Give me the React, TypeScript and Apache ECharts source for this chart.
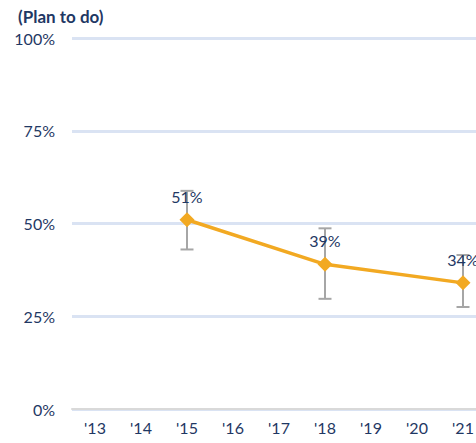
import React, { useEffect, useRef } from "react";
import * as echarts from "echarts";

const years = ["'13", "'14", "'15", "'16", "'17", "'18", "'19", "'20", "'21"];
const values: (number | null)[] = [null, null, 51, null, null, 39, null, null, 34];
const errIndex = [2, 5, 8];
const errLow = [43, 29.7, 27.5];
const errHigh = [58.8, 48.7, 41.5];
const yTicks = [0, 25, 50, 75, 100];

const NAVY = "#1f3864";
const FONT = "Lato";

export default function App() {
  const ref = useRef<HTMLDivElement>(null);
  useEffect(() => {
    if (!ref.current) return;
    const chart = echarts.init(ref.current, undefined, { renderer: "svg" });
    const errData = errIndex.map((i, k) => [i, errLow[k], errHigh[k]]);
    chart.setOption({
      animation: false,
      title: {
        text: "(Plan to do)",
        left: 13,
        top: 3,
        textStyle: { fontFamily: FONT, fontSize: 17, fontWeight: "bold", color: NAVY },
      },
      grid: { left: 72, right: 14, top: 38, bottom: 34, containLabel: false },
      xAxis: {
        type: "category",
        data: years,
        boundaryGap: true,
        axisLine: { lineStyle: { color: "#d9d9d9", width: 2 } },
        axisTick: { show: false },
        axisLabel: { fontFamily: FONT, fontSize: 16, color: NAVY, margin: 10 },
        splitLine: { show: false },
      },
      yAxis: {
        type: "value",
        min: yTicks[0],
        max: yTicks[yTicks.length - 1],
        interval: 25,
        axisLine: { show: false },
        axisTick: { show: false },
        axisLabel: { fontFamily: FONT, fontSize: 16, color: NAVY, margin: 17, formatter: "{value}%" },
        splitLine: { lineStyle: { color: "#dae3f3", width: 3 } },
      },
      series: [
        {
          type: "custom",
          z: 1,
          data: errData,
          renderItem: (params: any, api: any) => {
            const x = api.value(0);
            const lo = api.coord([x, api.value(1)]);
            const hi = api.coord([x, api.value(2)]);
            const cw = 6.5;
            const style = { stroke: "#a6a6a6", lineWidth: 2 };
            return {
              type: "group",
              children: [
                { type: "line", shape: { x1: lo[0], y1: lo[1], x2: hi[0], y2: hi[1] }, style },
                { type: "line", shape: { x1: lo[0] - cw, y1: lo[1], x2: lo[0] + cw, y2: lo[1] }, style },
                { type: "line", shape: { x1: hi[0] - cw, y1: hi[1], x2: hi[0] + cw, y2: hi[1] }, style },
              ],
            };
          },
        },
        {
          type: "line",
          z: 3,
          data: values,
          connectNulls: true,
          symbol: "diamond",
          symbolSize: 15,
          lineStyle: { color: "#f2a922", width: 3.5 },
          itemStyle: { color: "#f2a922" },
          label: {
            show: true,
            position: "top",
            distance: 8,
            formatter: "{c}%",
            fontFamily: FONT,
            fontSize: 16,
            color: NAVY,
          },
        },
      ],
    });
    return () => chart.dispose();
  }, []);
  return (
    <div style={{ position: "fixed", left: 0, top: 0, width: 476, height: 443, overflow: "hidden", background: "#fff" }}>
      <div ref={ref} style={{ width: 500, height: 443 }} />
    </div>
  );
}
